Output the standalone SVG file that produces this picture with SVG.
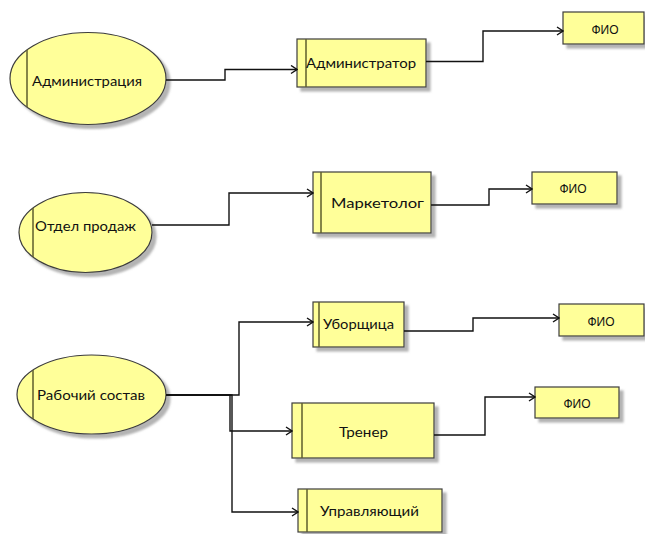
<svg xmlns="http://www.w3.org/2000/svg" width="645" height="534" viewBox="0 0 645 534">
  <defs>
    <filter id="shadow" x="-10%" y="-10%" width="130%" height="140%">
      <feOffset in="SourceAlpha" dx="4" dy="4" result="off"/>
      <feGaussianBlur in="off" stdDeviation="0.8" result="blur"/>
      <feFlood flood-color="#9a9a9a" flood-opacity="0.75"/>
      <feComposite in2="blur" operator="in" result="sh"/>
      <feMerge>
        <feMergeNode in="sh"/>
        <feMergeNode in="SourceGraphic"/>
      </feMerge>
    </filter>
    <marker id="arrow" viewBox="0 0 10 10" refX="9" refY="5" markerWidth="10" markerHeight="10" markerUnits="userSpaceOnUse" orient="auto">
      <path d="M3,1 L9,5 L3,9" fill="none" stroke="#111" stroke-width="1.4"/>
    </marker>
    <clipPath id="clipE1"><ellipse cx="88" cy="78.5" rx="78" ry="46"/></clipPath>
    <clipPath id="clipE2"><ellipse cx="85.5" cy="232.5" rx="66.5" ry="40"/></clipPath>
    <clipPath id="clipE3"><ellipse cx="91.5" cy="394.5" rx="74.5" ry="39.5"/></clipPath>
  </defs>
  <style>
    .shape { fill: #ffff99; stroke: #3c3c3c; stroke-width: 1.2; }
    .bar { stroke: #5e5e2e; stroke-width: 1.5; fill: none; }
    .lbl { font-family: Lato, "Open Sans", "Liberation Sans", sans-serif; font-size: 14px; fill: #111; }
    .fio { font-family: "Liberation Sans", Arial, sans-serif; font-size: 12px; fill: #111; text-anchor: middle; }
    .conn { fill: none; stroke: #111; stroke-width: 1.4; marker-end: url(#arrow); }
  </style>

  <!-- roles (ellipses) -->
  <g id="administration">
    <ellipse class="shape" cx="88" cy="78.5" rx="78" ry="46" filter="url(#shadow)"/>
    <line class="bar" x1="27" y1="20" x2="27" y2="140" clip-path="url(#clipE1)"/>
    <text class="lbl" x="32" y="86" textLength="110" lengthAdjust="spacingAndGlyphs">Администрация</text>
  </g>
  <g id="sales-dept">
    <ellipse class="shape" cx="85.5" cy="232.5" rx="66.5" ry="40" filter="url(#shadow)"/>
    <line class="bar" x1="33" y1="180" x2="33" y2="290" clip-path="url(#clipE2)"/>
    <text class="lbl" x="35" y="231" textLength="101" lengthAdjust="spacingAndGlyphs">Отдел продаж</text>
  </g>
  <g id="staff">
    <ellipse class="shape" cx="91.5" cy="394.5" rx="74.5" ry="39.5" filter="url(#shadow)"/>
    <line class="bar" x1="33" y1="340" x2="33" y2="450" clip-path="url(#clipE3)"/>
    <text class="lbl" x="37" y="400" textLength="108" lengthAdjust="spacingAndGlyphs">Рабочий состав</text>
  </g>

  <!-- positions -->
  <g id="administrator">
    <rect class="shape" x="297" y="39" width="129" height="48" filter="url(#shadow)"/>
    <line class="bar" x1="306" y1="39" x2="306" y2="87"/>
    <text class="lbl" x="306" y="68" textLength="110" lengthAdjust="spacingAndGlyphs">Администратор</text>
  </g>
  <g id="marketer">
    <rect class="shape" x="313" y="172" width="118" height="61" filter="url(#shadow)"/>
    <line class="bar" x1="321" y1="172" x2="321" y2="233"/>
    <text class="lbl" x="331" y="208" textLength="93" lengthAdjust="spacingAndGlyphs">Маркетолог</text>
  </g>
  <g id="cleaner">
    <rect class="shape" x="313" y="302" width="91" height="45" filter="url(#shadow)"/>
    <line class="bar" x1="319" y1="302" x2="319" y2="347"/>
    <text class="lbl" x="323" y="329" textLength="71" lengthAdjust="spacingAndGlyphs">Уборщица</text>
  </g>
  <g id="trainer">
    <rect class="shape" x="292" y="403" width="142" height="55" filter="url(#shadow)"/>
    <line class="bar" x1="302" y1="403" x2="302" y2="458"/>
    <text class="lbl" x="339" y="437" textLength="49" lengthAdjust="spacingAndGlyphs">Тренер</text>
  </g>
  <g id="manager">
    <rect class="shape" x="298" y="489" width="144" height="43" filter="url(#shadow)"/>
    <line class="bar" x1="307" y1="489" x2="307" y2="532"/>
    <text class="lbl" x="320" y="516" textLength="99" lengthAdjust="spacingAndGlyphs">Управляющий</text>
  </g>

  <!-- attributes -->
  <g id="fio-1">
    <rect class="shape" x="563" y="12" width="81" height="32" filter="url(#shadow)"/>
    <text class="fio" x="605" y="34">ФИО</text>
  </g>
  <g id="fio-2">
    <rect class="shape" x="532" y="172" width="85" height="32" filter="url(#shadow)"/>
    <text class="fio" x="573" y="193">ФИО</text>
  </g>
  <g id="fio-3">
    <rect class="shape" x="559" y="304" width="85" height="32" filter="url(#shadow)"/>
    <text class="fio" x="601" y="326">ФИО</text>
  </g>
  <g id="fio-4">
    <rect class="shape" x="535" y="387" width="84" height="31" filter="url(#shadow)"/>
    <text class="fio" x="577" y="408">ФИО</text>
  </g>

  <!-- connectors -->
  <g id="connectors">
    <path class="conn" d="M166,80 H225 V69.5 H297"/>
    <path class="conn" d="M426,61.5 H483 V31 H563"/>
    <path class="conn" d="M152,225 H229 V193 H313"/>
    <path class="conn" d="M431,205 H489 V189 H532"/>
    <path class="conn" d="M166,395 H239 V322 H313"/>
    <path class="conn" d="M166,395 H230 V431 H292"/>
    <path class="conn" d="M166,395 H232 V512 H298"/>
    <path class="conn" d="M404,331 H473 V318 H559"/>
    <path class="conn" d="M434,435 H485 V397 H535"/>
  </g>
</svg>
